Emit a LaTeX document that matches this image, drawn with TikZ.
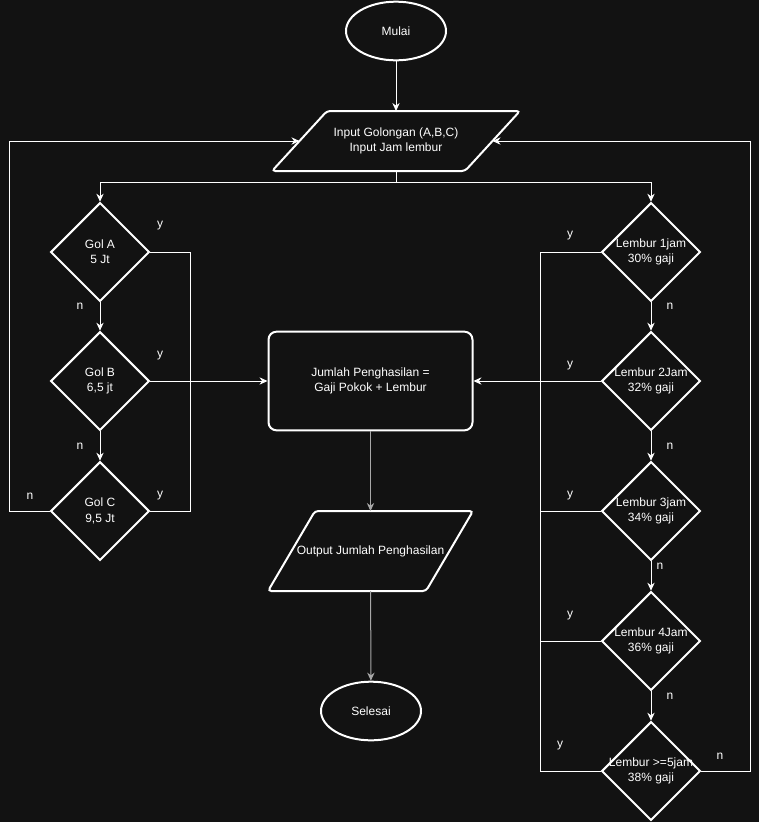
\documentclass[tikz,border=0pt]{standalone}
\usepackage{fontspec}
\setmainfont{Liberation Sans}
\usetikzlibrary{shapes.geometric, arrows.meta, positioning}
\definecolor{fcbg}{HTML}{121212}
\definecolor{fcline}{HTML}{FFFFFF}
\definecolor{fcgray}{HTML}{A8A8A8}

\begin{document}
\begin{tikzpicture}[
    x=0.75pt, y=-0.75pt,
    font=\fontsize{9}{11.5}\selectfont, text=white,
    term/.style={draw=fcline, ellipse, line width=1.5pt, fill=fcbg,
                minimum width=75pt, minimum height=44pt},
    iotext/.style={rectangle, align=center, inner sep=0pt, outer sep=0pt},
    iobox/.style={draw=fcline, line width=1.5pt, rounded corners=2.5pt},
    proc/.style={draw=fcline, rectangle, rounded corners=6pt, line width=1.5pt, fill=fcbg,
                minimum width=153pt, minimum height=74pt, align=center},
    cond/.style={draw=fcline, diamond, line width=1.5pt, fill=fcbg,
                minimum width=74pt, minimum height=74pt, inner sep=0pt},
    flow/.style={draw=fcline, line width=0.75pt, -{Stealth[length=6pt, width=5.5pt]}},
    wire/.style={draw=fcline, line width=0.75pt},
    yn/.style={inner sep=1pt}
]
\fill[fcbg] (0,0) rectangle (759,822);
\useasboundingbox (0,0) rectangle (759,822);

% start and input
\node[term] (mulai) at (396,31) {Mulai};
\node[iotext, minimum width=186pt, minimum height=45pt] (inp) at (396,141)
      {Input Golongan (A,B,C)\\Input Jam lembur};
\draw[iobox] (inp.south west) -- ([xshift=41.25pt]inp.north west) -- (inp.north east)
      -- ([xshift=-41.25pt]inp.south east) -- cycle;
\coordinate (inpL) at ([xshift=20.6pt]inp.west);
\coordinate (inpR) at ([xshift=-20.6pt]inp.east);
\coordinate (split) at (396,182);

% golongan
\node[cond, label={[align=center]center:Gol A\\5 Jt}] (gola) at (100,252) {};
\node[cond, label={[align=center]center:Gol B\\6,5 jt}] (golb) at (100,381) {};
\node[cond, label={[align=center]center:Gol C\\9,5 Jt}] (golc) at (100,511) {};

% lembur
\node[cond, label={[align=center]center:Lembur 1jam\\30\% gaji}] (lem1) at (651,252) {};
\node[cond, label={[align=center]center:Lembur 2Jam\\32\% gaji}] (lem2) at (651,381) {};
\node[cond, label={[align=center]center:Lembur 3jam\\34\% gaji}] (lem3) at (651,511) {};
\node[cond, label={[align=center]center:Lembur 4Jam\\36\% gaji}] (lem4) at (651,641) {};
\node[cond, label={[align=center]center:Lembur >=5jam\\38\% gaji}] (lem5) at (651,771) {};

% process, output, end
\node[proc] (jumlah) at (370.5,381) {Jumlah Penghasilan =\\Gaji Pokok + Lembur};
\node[iotext, minimum width=153.75pt, minimum height=60pt] (outp) at (370.5,551)
      {Output Jumlah Penghasilan};
\draw[iobox] (outp.south west) -- ([xshift=35.25pt]outp.north west) -- (outp.north east)
      -- ([xshift=-35.25pt]outp.south east) -- cycle;
\node[term] (selesai) at (371,711) {Selesai};

% main flow
\draw[flow] (mulai) -- (inp);
\draw[wire] (inp.south) -- (split);
\draw[flow] (split) -| (gola.north);
\draw[flow] (split) -| (lem1.north);
\foreach \a/\b in {gola/golb,golb/golc,lem1/lem2,lem2/lem3,lem3/lem4,lem4/lem5}
    \draw[flow] (\a) -- (\b);

% yes branches
\draw[wire] (gola.east) -- ++(40,0) |- (golc.east);
\draw[flow] (golb.east) -- (jumlah.west);
\draw[wire] (lem1.west) -- ++(-60,0) |- (lem5.west);
\foreach \a in {lem3,lem4}
    \draw[wire] (\a.west) -- ++(-60,0);
\draw[flow] (lem2.west) -- (jumlah.east);

% no branches back to input
\draw[flow] (golc.west) -- ++(-40,0) |- (inpL);
\draw[flow] (lem5.east) -- ++(49,0) |- (inpR);

\draw[flow, draw=fcgray] (jumlah) -- (outp);
\draw[flow, draw=fcgray] (outp) -- (selesai);

% branch labels
\node[yn] (ya) at (160,226) {y};
\node[yn] (yb) at (160,356) {y};
\node[yn] (yc) at (160,496) {y};
\node[yn] (na) at (80,306) {n};
\node[yn] (nb) at (80,446) {n};
\node[yn] (nc) at (30,496) {n};
\node[yn] (y1) at (570,236) {y};
\node[yn] (y2) at (570,366) {y};
\node[yn] (y3) at (570,496) {y};
\node[yn] (y4) at (570,616) {y};
\node[yn] (y5) at (560,746) {y};
\node[yn] (n1) at (670,306) {n};
\node[yn] (n2) at (670,446) {n};
\node[yn] (n3) at (660,566) {n};
\node[yn] (n4) at (670,696) {n};
\node[yn] (n5) at (720,756) {n};
\end{tikzpicture}
\end{document}
